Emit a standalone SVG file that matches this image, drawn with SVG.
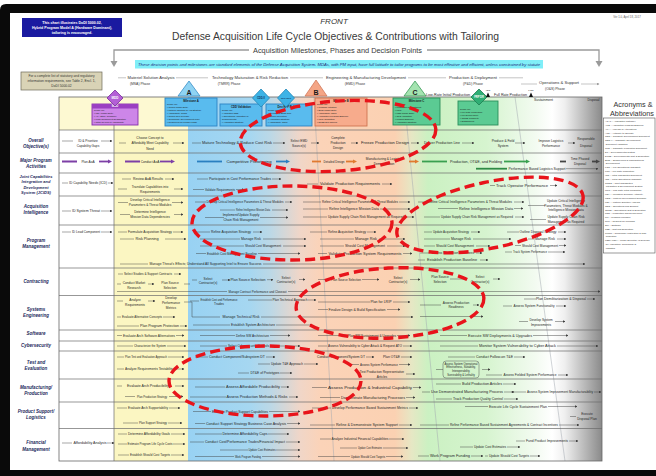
<svg xmlns="http://www.w3.org/2000/svg" width="656" height="476" viewBox="0 0 656 476">
<defs>
<style>
text{font-family:"Liberation Sans",Arial,sans-serif}
.t{font-size:3.2px;fill:#262626;text-anchor:middle}
.rl{font-size:4.5px;font-style:italic;font-weight:bold;fill:#1d2a5c;text-anchor:middle}
.l{stroke:#3c3c3c;stroke-width:0.45;fill:none}
.a{stroke:#3c3c3c;stroke-width:0.45;fill:none;marker-end:url(#ar)}
.sep{stroke:#6a6a6a;stroke-width:0.7;fill:none}
.ph{font-size:3.4px;fill:#333;text-anchor:middle}
.pl{stroke:#8a8a8a;stroke-width:0.5;fill:none}
.bx{font-size:2.3px;fill:#1a1a1a}
.bh{font-size:2.8px;font-weight:bold;fill:#1a1a1a;text-anchor:middle}
.ac{font-size:2.4px;fill:#333}
.red{fill:none;stroke:#e8141b;stroke-width:3.4;stroke-dasharray:10 5}
.vl{stroke:#a3a9b0;stroke-width:0.5;fill:none}
</style>
<linearGradient id="bg" gradientUnits="userSpaceOnUse" x1="188" y1="0" x2="602" y2="0">
<stop offset="0" stop-color="#98d2f3"/>
<stop offset="0.15" stop-color="#a6d7f1"/>
<stop offset="0.2" stop-color="#bcd8e6"/>
<stop offset="0.27" stop-color="#f0d6c8"/>
<stop offset="0.32" stop-color="#fbd3b8"/>
<stop offset="0.5" stop-color="#fbd1b2"/>
<stop offset="0.54" stop-color="#e6e7c4"/>
<stop offset="0.58" stop-color="#cbf1c2"/>
<stop offset="0.72" stop-color="#d6f4cf"/>
<stop offset="0.84" stop-color="#f3fbf1"/>
<stop offset="0.88" stop-color="#ffffff"/>
<stop offset="0.91" stop-color="#efefef"/>
<stop offset="1" stop-color="#8a8a8a"/>
</linearGradient>
<marker id="ar" viewBox="0 0 6 6" refX="5" refY="3" markerWidth="2.4" markerHeight="2.4" markerUnits="userSpaceOnUse" orient="auto"><path d="M0,0L6,3L0,6z" fill="#3c3c3c"/></marker>
<marker id="ap" viewBox="0 0 6 6" refX="2" refY="3" markerWidth="4.5" markerHeight="4.5" markerUnits="userSpaceOnUse" orient="auto"><path d="M0,0L6,3L0,6z" fill="#7d3fa6"/></marker>
<marker id="ab" viewBox="0 0 6 6" refX="2" refY="3" markerWidth="4.5" markerHeight="4.5" markerUnits="userSpaceOnUse" orient="auto"><path d="M0,0L6,3L0,6z" fill="#2a7fc0"/></marker>
<marker id="ao" viewBox="0 0 6 6" refX="2" refY="3" markerWidth="4.5" markerHeight="4.5" markerUnits="userSpaceOnUse" orient="auto"><path d="M0,0L6,3L0,6z" fill="#e07a30"/></marker>
<marker id="ag" viewBox="0 0 6 6" refX="2" refY="3" markerWidth="4.5" markerHeight="4.5" markerUnits="userSpaceOnUse" orient="auto"><path d="M0,0L6,3L0,6z" fill="#3aa050"/></marker>
<marker id="ad" viewBox="0 0 6 6" refX="2" refY="3" markerWidth="4.5" markerHeight="4.5" markerUnits="userSpaceOnUse" orient="auto"><path d="M0,0L6,3L0,6z" fill="#444"/></marker>
<marker id="ag2" viewBox="0 0 6 6" refX="5" refY="3" markerWidth="3" markerHeight="3" markerUnits="userSpaceOnUse" orient="auto"><path d="M0,0L6,3L0,6z" fill="#999"/></marker>
</defs>

<!-- frame -->
<rect x="0" y="0" width="656" height="476" fill="#ffffff"/>
<path d="M0 10Q0 4 6 4H656V476H0Z" fill="#0a0a0a"/>
<rect x="10" y="13" width="646" height="457" fill="#ffffff"/>

<!-- header -->
<g id="note-blue">
<rect x="22" y="18" width="100" height="19" fill="#1a1aa0"/>
<text x="72" y="24" style="font-size:3.6px;font-weight:bold;fill:#fff;text-anchor:middle">This chart illustrates DoDI 5000.02,</text>
<text x="72" y="29" style="font-size:3.6px;font-weight:bold;fill:#fff;text-anchor:middle">Hybrid Program Model A (Hardware Dominant),</text>
<text x="72" y="34" style="font-size:3.6px;font-weight:bold;fill:#fff;text-anchor:middle">tailoring is encouraged.</text>
</g>
<text x="334" y="24" style="font-size:8px;font-style:italic;fill:#333;text-anchor:middle">FRONT</text>
<text x="335.5" y="40" textLength="327" lengthAdjust="spacingAndGlyphs" style="font-size:11.5px;fill:#3a3a3a;text-anchor:middle">Defense Acquisition Life Cycle Objectives &amp; Contributions with Tailoring</text>
<text x="337.5" y="53" textLength="169" lengthAdjust="spacingAndGlyphs" style="font-size:7.3px;fill:#3a3a3a;text-anchor:middle">Acquisition Milestones, Phases and Decision Points</text>
<text x="627" y="18" style="font-size:2.8px;fill:#666;text-anchor:middle">Ver 1.0, April 18, 2017</text>
<g id="bracket" fill="#9a9a9a">
<path d="M249 50H114V62M427 50H599V62" stroke="#9a9a9a" stroke-width="1.3" fill="none"/>
<polygon points="110.5,61 117.5,61 114,67"/>
<polygon points="595.5,61 602.5,61 599,67"/>
</g>
<g id="banner">
<rect x="135" y="60" width="408" height="8.5" fill="#80eef8"/>
<text x="339" y="65.8" textLength="402" lengthAdjust="spacingAndGlyphs" style="font-size:3.8px;font-style:italic;fill:#1e2a7a;text-anchor:middle">These decision points and milestones are standard elements of the Defense Acquisition System.   MDAs, with PM input, have full latitude to tailor programs to be most effective and efficient, unless constrained by statute</text>
</g>
<g id="note-tan">
<rect x="21" y="72" width="81" height="18" fill="#d9d3b6" stroke="#6d6a5a" stroke-width="0.7"/>
<text x="61.5" y="77" style="font-size:3.3px;fill:#333;text-anchor:middle">For a complete list of statutory and regulatory</text>
<text x="61.5" y="81.8" style="font-size:3.3px;fill:#333;text-anchor:middle">information requirements, see Table 2, Encl. 1,</text>
<text x="61.5" y="86.6" style="font-size:3.3px;fill:#333;text-anchor:middle">DoDI 5000.02</text>
</g>

<!-- phase labels -->
<g id="phases">
<path class="pl" d="M118 77.8H126M499 77.8H523M521 84H537"/>
<path class="pl" d="M176 77.8H208M290 77.8H323M408 77.8H446M581 84H599" marker-end="url(#ag2)"/>
<text class="ph" x="151" y="79" textLength="47" lengthAdjust="spacingAndGlyphs">Materiel Solution Analysis</text>
<text class="ph" x="140" y="85.2">(MSA) Phase</text>
<text class="ph" x="250" y="79" textLength="76" lengthAdjust="spacingAndGlyphs">Technology Maturation &amp; Risk Reduction</text>
<text class="ph" x="229" y="85.2">(TMRR) Phase</text>
<text class="ph" x="366" y="79" textLength="80" lengthAdjust="spacingAndGlyphs">Engineering &amp; Manufacturing Development</text>
<text class="ph" x="355" y="85.2">(EMD) Phase</text>
<text class="ph" x="473" y="79" textLength="48" lengthAdjust="spacingAndGlyphs">Production &amp; Deployment</text>
<text class="ph" x="473" y="85.2">(P&amp;D) Phase</text>
<text class="ph" x="559" y="83.6" textLength="40" lengthAdjust="spacingAndGlyphs">Operations &amp; Support</text>
<text class="ph" x="555" y="89.6">(O&amp;S) Phase</text>
</g>

<!-- chart backgrounds -->
<rect x="59" y="97" width="129" height="33" fill="#fdf9d2"/>
<rect x="114" y="130" width="74" height="331" fill="#fbf6c2"/>
<rect x="188" y="97" width="414" height="364" fill="url(#bg)"/>
<path class="vl" d="M314 97L334 461M404 97L440 461M515 97L565 461"/>
<path class="sep" d="M114 97V461"/>
<path class="sep" d="M59 130H602M59 153H602M59 173H602M59 196H602M59 225H602M59 268H602M59 295.5H602M59 330H602M59 341H602M59 351H602M59 379H602M59 402H602M59 428.5H602"/>
<rect x="59" y="97" width="543" height="364" fill="none" stroke="#666" stroke-width="0.8"/>

<!-- milestone header nodes -->
<g id="mdd">
<rect x="92" y="104" width="46" height="21" fill="#cd86e8" stroke="#862fae" stroke-width="0.9"/>
<rect x="92" y="104" width="46" height="4.5" fill="#9b3fc2"/>
<text class="bh" x="115" y="107.4" style="fill:#fff">MDD</text>
<text class="bx" x="94" y="111.3">Ready for:</text>
<text class="bx" x="94" y="114.3">• MSA Phase Entry</text>
<text class="bx" x="94" y="117.3">• AoA Study Guidance</text>
<text class="bx" x="94" y="120.3">• Lead Component Designation</text>
<text class="bx" x="94" y="123.3">• Initial Review of Affordability</text>
<polygon points="115,90 123,98 115,106 107,98" fill="#b35fd6" stroke="#7a2d9c" stroke-width="0.8"/>
<text x="115" y="99.1" style="font-size:3px;font-weight:bold;fill:#fff;text-anchor:middle">MDD</text>
</g>
<g id="ms-a">
<rect x="165" y="98" width="52" height="28" fill="#59bbee" stroke="#2b84c4" stroke-width="0.9"/>
<text class="bh" x="191" y="101.6">Milestone A</text>
<text class="bx" x="167" y="105">Ready for:</text>
<text class="bx" x="167" y="108">• TMRR Phase Entry</text>
<text class="bx" x="167" y="111">• Materiel Solution &amp; Acq Strategy</text>
<text class="bx" x="167" y="114">• Affordability Goals</text>
<text class="bx" x="167" y="117">• TMRR RFP Release</text>
<text class="bx" x="167" y="120">• Technology Development Plan</text>
<text class="bx" x="167" y="123">• Resources for TMRR Phase</text>
<polygon points="189,81 200,96 178,96" fill="#8fd3f3" stroke="#3a8fc8" stroke-width="0.8"/>
<text x="189" y="94.5" style="font-size:7px;font-weight:bold;fill:#1a1a1a;text-anchor:middle">A</text>
</g>
<g id="cdd-v">
<rect x="220" y="104" width="42" height="22" fill="#59bbee" stroke="#2b84c4" stroke-width="0.9"/>
<text class="bh" x="241" y="107.6">CDD Validation</text>
<text class="bx" x="222" y="111">Ready for:</text>
<text class="bx" x="222" y="114">• Validated CDD</text>
<text class="bx" x="222" y="117">• Operational Validation of</text>
<text class="bx" x="222" y="120">  Requirements</text>
<text class="bx" x="222" y="123">• Acquisition Strategy</text>
<polygon points="261,89 269.5,98 261,107 252.5,98" fill="#3db3e6" stroke="#2488b8" stroke-width="0.8"/>
<text x="261" y="99" style="font-size:2.6px;font-weight:bold;fill:#10305a;text-anchor:middle">CDD-V</text>
</g>
<g id="rfp">
<rect x="266" y="104" width="46" height="22" fill="#59bbee" stroke="#2b84c4" stroke-width="0.9"/>
<text class="bh" x="289" y="107.6">Dev RFP Release</text>
<text class="bx" x="268" y="111">Ready for:</text>
<text class="bx" x="268" y="114">• Release of EMD RFP</text>
<text class="bx" x="268" y="117">• Source Selection</text>
<text class="bx" x="268" y="120">• Acquisition Strategy</text>
<text class="bx" x="268" y="123">• Affordability Caps</text>
<polygon points="286,89 294.5,98 286,107 277.5,98" fill="#3db3e6" stroke="#2488b8" stroke-width="0.8"/>
<text x="286" y="99" style="font-size:2.5px;font-weight:bold;fill:#10305a;text-anchor:middle">RFP Dev</text>
</g>
<g id="ms-b">
<rect x="315" y="98" width="52" height="28" fill="#f7ab8c" stroke="#cf7350" stroke-width="0.9"/>
<text class="bh" x="341" y="101.6">Milestone B</text>
<text class="bx" x="317" y="105">Ready for:</text>
<text class="bx" x="317" y="108">• Program Initiation</text>
<text class="bx" x="317" y="111">• EMD Phase Entry</text>
<text class="bx" x="317" y="114">• Affordability Caps</text>
<text class="bx" x="317" y="117">• Acquisition Program Baseline</text>
<text class="bx" x="317" y="120">• LRIP Quantities</text>
<text class="bx" x="317" y="123">• DT&amp;E Exit Criteria</text>
<polygon points="316,80 327,96 305,96" fill="#f4a585" stroke="#d2785a" stroke-width="0.8"/>
<text x="316" y="94.5" style="font-size:7px;font-weight:bold;fill:#1a1a1a;text-anchor:middle">B</text>
</g>
<g id="ms-c">
<rect x="393" y="98" width="47" height="27" fill="#5bcb93" stroke="#2a8f5c" stroke-width="0.9"/>
<text class="bh" x="416.5" y="101.6">Milestone C</text>
<text class="bx" x="395" y="105">Ready for:</text>
<text class="bx" x="395" y="108">• Production Commitment</text>
<text class="bx" x="395" y="111">• LRIP</text>
<text class="bx" x="395" y="114">• P&amp;D Phase Entry</text>
<text class="bx" x="395" y="117">• CPD Validation</text>
<text class="bx" x="395" y="120">• Product Baseline</text>
<text class="bx" x="395" y="123">• Acquisition Strategy</text>
<polygon points="415,81 426,96 404,96" fill="#a4e3b0" stroke="#3e9c5c" stroke-width="0.8"/>
<text x="415" y="94.5" style="font-size:7px;font-weight:bold;fill:#1a1a1a;text-anchor:middle">C</text>
</g>
<g id="frp-dr">
<rect x="458" y="101" width="40" height="24" fill="#5bcb93" stroke="#2a8f5c" stroke-width="0.9"/>
<text class="bx" x="460" y="110">Ready for:</text>
<text class="bx" x="460" y="113">• Full Rate Production</text>
<text class="bx" x="460" y="116">• Full Deployment</text>
<text class="bx" x="460" y="119">• IOT&amp;E Complete</text>
<text class="bx" x="460" y="122">• Sustainment</text>
<polygon points="479,89 487,97 479,105 471,97" fill="#2fae74" stroke="#1d7d50" stroke-width="0.8"/>
<text x="479" y="98" style="font-size:2.6px;font-weight:bold;fill:#fff;text-anchor:middle">FRP DR</text>
</g>
<g id="production-marks">
<text class="t" x="448" y="95.8" textLength="44" lengthAdjust="spacingAndGlyphs" style="font-size:2.8px">Low-Rate Initial Production</text>
<text class="t" x="510.5" y="95.8" textLength="33" lengthAdjust="spacingAndGlyphs" style="font-size:2.8px">Full Rate Production</text>
<text class="t" x="488" y="90.5" style="font-size:2.5px">IOC</text>
<polygon points="486,97 490,97 488,92.5" fill="#111"/>
<text class="t" x="531" y="90.5" style="font-size:2.5px">FOC</text>
<polygon points="529,97 533,97 531,92.5" fill="#111"/>
<text class="t" x="543.5" y="101" textLength="19" lengthAdjust="spacingAndGlyphs" style="font-size:2.8px">Sustainment</text>
<text class="t" x="593.5" y="101" textLength="12" lengthAdjust="spacingAndGlyphs" style="font-size:2.8px">Disposal</text>
</g>

<!-- row labels -->
<g id="row-labels">
<text class="rl" x="36" y="142">Overall<tspan x="36" dy="5.8">Objective(s)</tspan></text>
<text class="rl" x="36" y="162">Major Program<tspan x="36" dy="5.8">Activities</tspan></text>
<text class="rl" x="36" y="178" style="font-size:4px">Joint Capabilities<tspan x="36" dy="5.3">Integration and</tspan><tspan x="36" dy="5.3">Development</tspan><tspan x="36" dy="5.3">System (JCIDS)</tspan></text>
<text class="rl" x="36" y="208">Acquisition<tspan x="36" dy="6">Intelligence</tspan></text>
<text class="rl" x="36" y="242">Program<tspan x="36" dy="6.3">Management</tspan></text>
<text class="rl" x="36" y="283">Contracting</text>
<text class="rl" x="36" y="310.5">Systems<tspan x="36" dy="6.3">Engineering</tspan></text>
<text class="rl" x="36" y="334.5">Software</text>
<text class="rl" x="36" y="346.7">Cybersecurity</text>
<text class="rl" x="36" y="363.5">Test and<tspan x="36" dy="6.5">Evaluation</tspan></text>
<text class="rl" x="36" y="389">Manufacturing/<tspan x="36" dy="6.3">Production</tspan></text>
<text class="rl" x="36" y="412.5">Product Support/<tspan x="36" dy="6.2">Logistics</tspan></text>
<text class="rl" x="36" y="444">Financial<tspan x="36" dy="6.5">Management</tspan></text>
</g>

<!-- connectors -->
<g id="connectors">
<g id="activity-arrows" stroke-width="1.8" fill="none">
<path d="M62 161.5H77M125 161.5H140" stroke="#7d3fa6"/>
<path d="M99 161.5H109" stroke="#7d3fa6" marker-end="url(#ap)"/>
<path d="M160 161.5H172" stroke="#7d3fa6" marker-end="url(#ap)"/>
<path d="M197 161.5H222" stroke="#2a7fc0"/>
<path d="M276 161.5H287" stroke="#2a7fc0" marker-end="url(#ab)"/>
<path d="M312 161.5H321" stroke="#e07a30"/>
<path d="M346 161.5H354" stroke="#e07a30" marker-end="url(#ao)"/>
<path d="M409 161.5H416" stroke="#e07a30" marker-end="url(#ao)"/>
<path d="M422 161.5H447" stroke="#3aa050"/>
<path d="M504 161.5H527" stroke="#3aa050" marker-end="url(#ag)"/>
<path d="M560 161.5H566" stroke="#444"/>
<path d="M592 161.5H597" stroke="#444" marker-end="url(#ad)"/>
<path d="M476 168.7H507" stroke="#2f8a45"/>
</g>
<path class="l" d="M62 141H73M119 143H126M192 143H201"/>
<path class="a" d="M101 141H112"/><path class="a" d="M173 143H184"/><path class="a" d="M273 143H285"/><path class="a" d="M311 143H319"/><path class="a" d="M351 143H358"/><path class="a" d="M411 143H419"/><path class="a" d="M462 143H474"/><path class="a" d="M515 143H525"/><path class="a" d="M568 143H575"/>
<path class="a" d="M566 168.7H598"/>
<path class="l" d="M62 183H68M122 179H131M118 189H127M197 179H208M193 189.5H204M307 184H318M490 185.5H495"/>
<path class="a" d="M108 183H113"/><path class="a" d="M165 179H174"/><path class="a" d="M174 189H183"/><path class="a" d="M272 179H281"/><path class="a" d="M236 189.5H244"/><path class="a" d="M382 184H392"/><path class="a" d="M550 185.5H557"/>
<path class="l" d="M62 211H71M118 202.5H128M120 214.5H130M195 202H206M220 210H235M205 217.5H224M303 202H321M303 209H328M303 217H327M418 202H427M438 208.5H458M424 217H440M528 205.5H545M530 219.5H546"/>
<path class="a" d="M101 211H112"/><path class="a" d="M172 202.5H183"/><path class="a" d="M174 214.5H183"/><path class="a" d="M285 202H292"/><path class="a" d="M272 210H288"/><path class="a" d="M260 217.5H288"/><path class="a" d="M399 202H410"/><path class="a" d="M380 209H410"/><path class="a" d="M406 217H414"/><path class="a" d="M514 202H524"/><path class="a" d="M514 208.5H523"/><path class="a" d="M515 217H524"/>
<path class="l" d="M62 232H71M118 232H127M120 239H134M120 264H148M195 232H210M200 239H240M200 246H244M196 253.5H206M310 232H327M320 239H354M320 246H344M318 253.5H327M424 232H432M424 239H450M424 246H435M420 253H430M418 260H425M507 232H519M528 239H534M515 245.5H521M505 252H512"/>
<path class="a" d="M101 232H112"/><path class="a" d="M173 232H183"/><path class="a" d="M165 239H186"/><path class="a" d="M263 264H585"/><path class="a" d="M253 232H262"/><path class="a" d="M263 239H306"/><path class="a" d="M283 246H306"/><path class="a" d="M258 253.5H300"/><path class="a" d="M367 232H376"/><path class="a" d="M379 239H405"/><path class="a" d="M387 246H405"/><path class="a" d="M403 253.5H412"/><path class="a" d="M471 232H480"/><path class="a" d="M473 239H511"/><path class="a" d="M476 246H490"/><path class="a" d="M476 253H482"/><path class="a" d="M480 260H488"/><path class="a" d="M558 232H566"/><path class="a" d="M557 239H566"/><path class="a" d="M559 245.5H566"/><path class="a" d="M548 252H565"/>
<path class="l" d="M118 274H123M117 284H121M184 284H190M192 280H197M117 291.5H227M318 279.5H330"/>
<path class="a" d="M174 274H181"/><path class="a" d="M148 284H154"/><path class="a" d="M222 280H230"/><path class="a" d="M267 279.7H273"/><path class="a" d="M299 279.5H305"/><path class="a" d="M288 291.5H600"/><path class="a" d="M362 279.5H379"/><path class="a" d="M410 279.5H420"/><path class="a" d="M450 279H467"/><path class="a" d="M493 279H500"/>
<path class="l" d="M117 301H123M184 302H192V317H220M117 317H121M117 326H139M190 301H199M248 300H272M193 325H230M318 302H370M318 309.5H328M420 305H441M524 299H536M503 306H512M519 321.5H528"/>
<path class="a" d="M148 301H155"/><path class="a" d="M163 317H175"/><path class="a" d="M180 326H187"/><path class="a" d="M308 300H316"/><path class="a" d="M261 317H413"/><path class="a" d="M420 316.5H483"/><path class="a" d="M276 325H312"/><path class="a" d="M393 302H410"/><path class="a" d="M387 309.5H400"/><path class="a" d="M473 305H479"/><path class="a" d="M587 299H595"/><path class="a" d="M556 306H566"/><path class="a" d="M555 321.5H565"/>
<path class="l" d="M117 335.5H122M200 335.5H235M318 335.5H347M440 335.5H467M117 346H133M200 346H227M318 346H327M440 346H478"/>
<path class="a" d="M176 335.5H184"/><path class="a" d="M270 335.5H290"/><path class="a" d="M397 335.5H410"/><path class="a" d="M533 335.5H568"/><path class="a" d="M167 346H186"/><path class="a" d="M270 346H300"/><path class="a" d="M403 346H412"/><path class="a" d="M557 346H598"/>
<path class="l" d="M117 357H124M117 369H124M195 357H208M258 364H270M238 373H249M350 364.5H359M448 357H475M436 369.5H443M486 375H502"/>
<path class="a" d="M168 357H184"/><path class="a" d="M174 369H184"/><path class="a" d="M266 357H275"/><path class="a" d="M304 364H318"/><path class="a" d="M280 373H292"/><path class="a" d="M366 357H374"/><path class="a" d="M401 357H412"/><path class="a" d="M399 364.5H410"/><path class="a" d="M406 374H415"/><path class="a" d="M514 357H525"/><path class="a" d="M482 369.5H490"/><path class="a" d="M558 375H568"/>
<path class="l" d="M117 386H122M125 396.5H135M195 387H225M190 397H226M312 387.5H327M320 397.5H340M436 384H461M422 392H430M436 399H452M511 392H526"/>
<path class="a" d="M175 386H184"/><path class="a" d="M169 396.5H183"/><path class="a" d="M281 387H289"/><path class="a" d="M289 397H298"/><path class="a" d="M413 387.5H421"/><path class="a" d="M406 397.5H415"/><path class="a" d="M503 384H516"/><path class="a" d="M504 392H514"/><path class="a" d="M504 399H518"/><path class="a" d="M594 392H601"/>
<path class="l" d="M117 408H127M123 423H138M193 411.5H211M195 423.5H205M312 408H331M310 425H335M465 406.5H488M570 416.5H576M420 425H449"/>
<path class="a" d="M169 408H180"/><path class="a" d="M168 423H182"/><path class="a" d="M269 411.5H300"/><path class="a" d="M287 423.5H300"/><path class="a" d="M409 408H418"/><path class="a" d="M399 425H412"/><path class="a" d="M548 406.5H577"/><path class="a" d="M559 425H579"/>
<path class="l" d="M62 443H72M118 434H127M118 444H127M118 455H129M195 434H222M190 442H204M220 450H248M195 456.5H234M320 439H331M340 448H357M318 456.5H350M418 456H429M485 456H488M460 447H473M516 441H525"/>
<path class="a" d="M107 443H114"/><path class="a" d="M171 434H185"/><path class="a" d="M173 444H185"/><path class="a" d="M171 455H184"/><path class="a" d="M268 434H289"/><path class="a" d="M286 442H300"/><path class="a" d="M276 450H300"/><path class="a" d="M262 456.5H300"/><path class="a" d="M389 439H404"/><path class="a" d="M383 448H408"/><path class="a" d="M386 456.5H403"/><path class="a" d="M471 456H483"/><path class="a" d="M530 456H540"/><path class="a" d="M507 447H520"/><path class="a" d="M569 441H578"/>
</g>

<!-- row items -->
<g id="row-objectives">
<text class="t" x="88" y="142.1">ID &amp; Prioritize<tspan x="88" dy="5.2">Capability Gaps</tspan></text>
<text class="t" x="150" y="139">Choose Concept to<tspan x="150" dy="5.4">Affordably Meet Capability</tspan><tspan x="150" dy="5.4">Need</tspan></text>
<text class="t" x="237" y="144.1" textLength="70" lengthAdjust="spacingAndGlyphs">Mature Technology &amp; Reduce Cost Risk</text>
<text class="t" x="299" y="141.5">Select EMD<tspan x="299" dy="5">Source(s)</tspan></text>
<text class="t" x="338" y="138.8">Complete<tspan x="338" dy="5.2">Production</tspan><tspan x="338" dy="5.2">Design</tspan></text>
<text class="t" x="385" y="144.1" textLength="48" lengthAdjust="spacingAndGlyphs">Freeze Production Design</text>
<text class="t" x="442" y="144.1" textLength="36" lengthAdjust="spacingAndGlyphs">Deliver Production Line</text>
<text class="t" x="503" y="141.5">Produce &amp; Field<tspan x="503" dy="5">System</tspan></text>
<text class="t" x="551" y="141.5">Improve Logistics<tspan x="551" dy="5">Performance</tspan></text>
<text class="t" x="586" y="140">Responsible<tspan x="586" dy="7">Disposal</tspan></text>
</g>
<g id="row-activities">
<text class="t" x="88" y="162.6">Plan AoA</text>
<text class="t" x="150" y="162.6">Conduct AoA</text>
<text class="t" x="249" y="162.6" textLength="45" lengthAdjust="spacingAndGlyphs">Competitive Prototyping</text>
<text class="t" x="334" y="162.6" textLength="21" lengthAdjust="spacingAndGlyphs">Detailed Design</text>
<text class="t" x="384" y="160">Manufacturing &amp; Logistics<tspan x="384" dy="5.2">Demonstration</tspan></text>
<text class="t" x="476" y="162.6" textLength="52" lengthAdjust="spacingAndGlyphs">Production, OT&amp;E, and Fielding</text>
<text class="t" x="580" y="160.3">Time Phased<tspan x="580" dy="5">Disposal</tspan></text>
<text class="t" x="537" y="169.8" textLength="57" lengthAdjust="spacingAndGlyphs">Performance Based Logistics Support</text>
</g>
<g id="row-jcids">
<text class="t" x="88" y="184.1" textLength="38" lengthAdjust="spacingAndGlyphs">ID Capability Needs (ICD)</text>
<text class="t" x="148" y="180.1" textLength="30" lengthAdjust="spacingAndGlyphs">Review AoA Results</text>
<text class="t" x="150" y="188.2">Translate Capabilities into<tspan x="150" dy="4.8">Requirements</tspan></text>
<text class="t" x="240" y="180.1" textLength="62" lengthAdjust="spacingAndGlyphs">Participate in Cost Performance Trades</text>
<text class="t" x="220" y="190.6" textLength="30" lengthAdjust="spacingAndGlyphs">Validate Requirements</text>
<text class="t" x="350" y="185.1" textLength="60" lengthAdjust="spacingAndGlyphs">Validate Production Requirements</text>
<text class="t" x="522" y="186.6" textLength="52" lengthAdjust="spacingAndGlyphs">Track Operator Performance</text>
</g>
<g id="row-intel">
<text class="t" x="86" y="212.1" textLength="28" lengthAdjust="spacingAndGlyphs">ID System Threat</text>
<text class="t" x="150" y="201.2">Develop Critical Intelligence<tspan x="150" dy="4.6">Parameters &amp; Threat Modules</tspan></text>
<text class="t" x="150" y="213.3">Determine Intelligence<tspan x="150" dy="4.8">Mission Data Dependencies</tspan></text>
<text class="t" x="245" y="203.1" textLength="77" lengthAdjust="spacingAndGlyphs">Develop Critical Intelligence Parameters &amp; Threat Modules</text>
<text class="t" x="253" y="211.1" textLength="34" lengthAdjust="spacingAndGlyphs">Refine Intelligence Mission Data</text>
<text class="t" x="241" y="216.4">Implement/Update Supply<tspan x="241" dy="4.4">Chain Risk Management</tspan></text>
<text class="t" x="360" y="203.1" textLength="76" lengthAdjust="spacingAndGlyphs">Refine Critical Intelligence Parameters &amp; Threat Modules</text>
<text class="t" x="354" y="210.1" textLength="50" lengthAdjust="spacingAndGlyphs">Refine Intelligence Mission Data</text>
<text class="t" x="366" y="218.1" textLength="76" lengthAdjust="spacingAndGlyphs">Update Supply Chain Risk Management as Required</text>
<text class="t" x="470" y="203.1" textLength="84" lengthAdjust="spacingAndGlyphs">Refine Critical Intelligence Parameters &amp; Threat Modules</text>
<text class="t" x="486" y="209.6" textLength="54" lengthAdjust="spacingAndGlyphs">Refine Intelligence Mission Data</text>
<text class="t" x="477" y="218.1" textLength="72" lengthAdjust="spacingAndGlyphs">Update Supply Chain Risk Management as Required</text>
<text class="t" x="566" y="202.3">Update Critical Intelligence<tspan x="566" dy="4.5">Parameters, Threat Modules &amp;</tspan><tspan x="566" dy="4.5">Intelligence Mission Data</tspan></text>
<text class="t" x="566" y="218.4">Update Supply Chain Risk<tspan x="566" dy="4.5">Management as Required</tspan></text>
</g>
<g id="row-pm">
<text class="t" x="86" y="233.1" textLength="28" lengthAdjust="spacingAndGlyphs">ID Lead Component</text>
<text class="t" x="150" y="233.1" textLength="44" lengthAdjust="spacingAndGlyphs">Formulate Acquisition Strategy</text>
<text class="t" x="147" y="240.1" textLength="23" lengthAdjust="spacingAndGlyphs">Risk Planning</text>
<text class="t" x="205.5" y="265.1" textLength="112" lengthAdjust="spacingAndGlyphs">Manage Threat's Effects; Understand All Supporting Intel to Ensure Success</text>
<text class="t" x="231" y="233.1" textLength="40" lengthAdjust="spacingAndGlyphs">Refine Acquisition Strategy</text>
<text class="t" x="251" y="240.1" textLength="20" lengthAdjust="spacingAndGlyphs">Manage Risk</text>
<text class="t" x="263" y="247.1" textLength="36" lengthAdjust="spacingAndGlyphs">Should Cost Management</text>
<text class="t" x="232" y="254.6" textLength="50" lengthAdjust="spacingAndGlyphs">Establish Cost Management Baseline</text>
<text class="t" x="347" y="233.1" textLength="38" lengthAdjust="spacingAndGlyphs">Refine Acquisition Strategy</text>
<text class="t" x="366" y="240.1" textLength="22" lengthAdjust="spacingAndGlyphs">Manage Risk</text>
<text class="t" x="365" y="247.1" textLength="40" lengthAdjust="spacingAndGlyphs">Should Cost Management</text>
<text class="t" x="365" y="254.6" textLength="73" lengthAdjust="spacingAndGlyphs">Validate Production System Requirements</text>
<text class="t" x="451" y="233.1" textLength="36" lengthAdjust="spacingAndGlyphs">Update Acquisition Strategy</text>
<text class="t" x="461" y="240.1" textLength="20" lengthAdjust="spacingAndGlyphs">Manage Risk</text>
<text class="t" x="455" y="247.1" textLength="38" lengthAdjust="spacingAndGlyphs">Should Cost Management</text>
<text class="t" x="453" y="254.1" textLength="42" lengthAdjust="spacingAndGlyphs">Assess Production Readiness</text>
<text class="t" x="452" y="261.1" textLength="50" lengthAdjust="spacingAndGlyphs">Establish Production Baseline</text>
<text class="t" x="538" y="233.1" textLength="37" lengthAdjust="spacingAndGlyphs">Outline Disposal Strategy</text>
<text class="t" x="545" y="240.1" textLength="20" lengthAdjust="spacingAndGlyphs">Manage Risk</text>
<text class="t" x="540" y="246.6" textLength="36" lengthAdjust="spacingAndGlyphs">Should Cost Management</text>
<text class="t" x="530" y="253.1" textLength="34" lengthAdjust="spacingAndGlyphs">Track System Performance</text>
</g>
<g id="row-contracting">
<text class="t" x="148" y="275.1" textLength="48" lengthAdjust="spacingAndGlyphs">Select Studies &amp; Support Contracts</text>
<text class="t" x="134" y="284.3">Conduct Market<tspan x="134" dy="4.6">Research</tspan></text>
<text class="t" x="170" y="284.3">Plan Source<tspan x="170" dy="4.6">Selection</tspan></text>
<text class="t" x="208" y="279.5">Select<tspan x="208" dy="4.6">Contractor(s)</tspan></text>
<text class="t" x="248" y="280.8" textLength="35" lengthAdjust="spacingAndGlyphs">Plan Source Selection</text>
<text class="t" x="286" y="278.8">Select<tspan x="286" dy="4.6">Contractor(s)</tspan></text>
<text class="t" x="257.5" y="292.6" textLength="58" lengthAdjust="spacingAndGlyphs">Manage Contract Performance and Closeout</text>
<text class="t" x="346" y="280.6" textLength="30" lengthAdjust="spacingAndGlyphs">Plan Source Selection</text>
<text class="t" x="398" y="278.8">Select<tspan x="398" dy="4.6">Contractor(s)</tspan></text>
<text class="t" x="440" y="278.2">Plan Source<tspan x="440" dy="4.6">Selection</tspan></text>
<text class="t" x="480" y="278.1">Select<tspan x="480" dy="4.6">Contractor(s)</tspan></text>
</g>
<g id="row-se">
<text class="t" x="135" y="300.6">Analyze<tspan x="135" dy="5">Requirements</tspan></text>
<text class="t" x="171" y="299.2">Develop<tspan x="171" dy="4.8">Performance</tspan><tspan x="171" dy="4.8">Metrics</tspan></text>
<text class="t" x="142" y="318.1" textLength="40" lengthAdjust="spacingAndGlyphs">Evaluate Alternative Concepts</text>
<text class="t" x="159.5" y="327.1" textLength="39" lengthAdjust="spacingAndGlyphs">Plan Program Protection</text>
<text class="t" x="219" y="300.5" textLength="37" lengthAdjust="spacingAndGlyphs">Establish Cost and Performance</text>
<text class="t" x="219" y="305.3">Trades</text>
<text class="t" x="290" y="301.1" textLength="35" lengthAdjust="spacingAndGlyphs">Plan Technical Approach</text>
<text class="t" x="241" y="318.1" textLength="37" lengthAdjust="spacingAndGlyphs">Manage Technical Risk</text>
<text class="t" x="253" y="326.1" textLength="44" lengthAdjust="spacingAndGlyphs">Establish System Architecture</text>
<text class="t" x="381" y="303.1" textLength="21" lengthAdjust="spacingAndGlyphs">Plan for LRIP</text>
<text class="t" x="357" y="310.6" textLength="57" lengthAdjust="spacingAndGlyphs">Finalize Design &amp; Build Specification</text>
<text class="t" x="456" y="303.6">Assess Production<tspan x="456" dy="4.8">Readiness</tspan></text>
<text class="t" x="561" y="300.1" textLength="50" lengthAdjust="spacingAndGlyphs">Plan Demilitarization &amp; Disposal</text>
<text class="t" x="534" y="307.1" textLength="41" lengthAdjust="spacingAndGlyphs">Assess System Functionality</text>
<text class="t" x="541" y="320.8">Develop System<tspan x="541" dy="4.8">Improvements</tspan></text>
</g>
<g id="row-software">
<text class="t" x="149" y="336.6" textLength="52" lengthAdjust="spacingAndGlyphs">Evaluate Arch Software Alternatives</text>
<text class="t" x="252.5" y="336.6" textLength="33" lengthAdjust="spacingAndGlyphs">Define SW Architecture</text>
<text class="t" x="372" y="336.6" textLength="48" lengthAdjust="spacingAndGlyphs">Plan SW Sustainment &amp; Upgrades</text>
<text class="t" x="500" y="336.6" textLength="64" lengthAdjust="spacingAndGlyphs">Execute SW Deployments &amp; Upgrades</text>
</g>
<g id="row-cyber">
<text class="t" x="150" y="347.1" textLength="32" lengthAdjust="spacingAndGlyphs">Characterize the System</text>
<text class="t" x="248.5" y="347.1" textLength="41" lengthAdjust="spacingAndGlyphs">Select Cybersecurity Controls</text>
<text class="t" x="365" y="347.1" textLength="74" lengthAdjust="spacingAndGlyphs">Assess Vulnerability to Cyber Attack &amp; Request ATO</text>
<text class="t" x="517.5" y="347.1" textLength="77" lengthAdjust="spacingAndGlyphs">Monitor System Vulnerability to Cyber Attack</text>
</g>
<g id="row-te">
<text class="t" x="146" y="358.1" textLength="42" lengthAdjust="spacingAndGlyphs">Plan Test and Evaluation Approach</text>
<text class="t" x="149" y="370.1" textLength="48" lengthAdjust="spacingAndGlyphs">Analyze Requirements Testability</text>
<text class="t" x="237" y="358.1" textLength="56" lengthAdjust="spacingAndGlyphs">Conduct Component/Subsystem DT</text>
<text class="t" x="287" y="365.1" textLength="32" lengthAdjust="spacingAndGlyphs">Update T&amp;E Approach</text>
<text class="t" x="265" y="374.1" textLength="29" lengthAdjust="spacingAndGlyphs">DT&amp;E of Prototypes</text>
<text class="t" x="341" y="358.1" textLength="48" lengthAdjust="spacingAndGlyphs">Conduct Component/System DT</text>
<text class="t" x="391.5" y="358.1" textLength="17" lengthAdjust="spacingAndGlyphs">Plan OT&amp;E</text>
<text class="t" x="379" y="365.6" textLength="38" lengthAdjust="spacingAndGlyphs">Assess System Performance</text>
<text class="t" x="382" y="373">Test Production Representative<tspan x="382" dy="4.8">Articles</tspan></text>
<text class="t" x="494.5" y="358.1" textLength="37" lengthAdjust="spacingAndGlyphs">Conduct Follow-on T&amp;E</text>
<rect x="443" y="361" width="36" height="17" rx="3" fill="none" stroke="#555" stroke-width="0.5"/>
<text class="t" x="461" y="364.6" style="font-size:2.7px">Assess System Operational<tspan x="461" dy="3.8">Effectiveness, Suitability,</tspan><tspan x="461" dy="3.8">Interoperability,</tspan><tspan x="461" dy="3.8">Survivability &amp; Lethality</tspan></text>
<text class="t" x="530" y="376.1" textLength="53" lengthAdjust="spacingAndGlyphs">Assess Fielded System Performance</text>
</g>
<g id="row-mfg">
<text class="t" x="148" y="387.1" textLength="42" lengthAdjust="spacingAndGlyphs">Evaluate Arch Producibility</text>
<text class="t" x="152" y="397.6" textLength="30" lengthAdjust="spacingAndGlyphs">Plan Production Strategy</text>
<text class="t" x="253" y="388.1" textLength="54" lengthAdjust="spacingAndGlyphs">Assess Affordable Producibility</text>
<text class="t" x="257" y="398.1" textLength="61" lengthAdjust="spacingAndGlyphs">Assess Production Methods &amp; Risks</text>
<text class="t" x="370" y="388.6" textLength="84" lengthAdjust="spacingAndGlyphs">Assess Production &amp; Industrial Capability</text>
<text class="t" x="373" y="398.6" textLength="64" lengthAdjust="spacingAndGlyphs">Demonstrate Manufacturing Processes</text>
<text class="t" x="482" y="385.1" textLength="40" lengthAdjust="spacingAndGlyphs">Build Production Articles</text>
<text class="t" x="467" y="393.1" textLength="72" lengthAdjust="spacingAndGlyphs">Use Demonstrated Manufacturing Process</text>
<text class="t" x="478" y="400.1" textLength="50" lengthAdjust="spacingAndGlyphs">Track Production Quality Control</text>
<text class="t" x="560" y="393.1" textLength="66" lengthAdjust="spacingAndGlyphs">Assess System Improvement Manufacturability</text>
</g>
<g id="row-support">
<text class="t" x="148" y="409.1" textLength="40" lengthAdjust="spacingAndGlyphs">Evaluate Arch Supportability</text>
<text class="t" x="153" y="424.1" textLength="28" lengthAdjust="spacingAndGlyphs">Plan Support Strategy</text>
<text class="t" x="240" y="412.6" textLength="56" lengthAdjust="spacingAndGlyphs">Evaluate Product Support Capabilities</text>
<text class="t" x="246" y="424.6" textLength="80" lengthAdjust="spacingAndGlyphs">Conduct Support Strategy Business Case Analysis</text>
<text class="t" x="370" y="409.1" textLength="76" lengthAdjust="spacingAndGlyphs">Develop Performance Based Sustainment Metrics</text>
<text class="t" x="367" y="426.1" textLength="62" lengthAdjust="spacingAndGlyphs">Refine &amp; Demonstrate System Support</text>
<text class="t" x="518" y="407.6" textLength="58" lengthAdjust="spacingAndGlyphs">Execute Life Cycle Sustainment Plan</text>
<text class="t" x="587" y="415">Execute<tspan x="587" dy="5">Disposal Plan</tspan></text>
<text class="t" x="504" y="426.1" textLength="108" lengthAdjust="spacingAndGlyphs">Refine Performance Based Sustainment Agreements &amp; Contract Incentives</text>
</g>
<g id="row-financial">
<text class="t" x="90" y="444.1" textLength="33" lengthAdjust="spacingAndGlyphs">Affordability Analysis</text>
<text class="t" x="149" y="435.1" textLength="42" lengthAdjust="spacingAndGlyphs">Determine Affordability Goals</text>
<text class="t" x="150" y="445.1" textLength="45" lengthAdjust="spacingAndGlyphs">Estimate Program Life Cycle Costs</text>
<text class="t" x="150" y="456.1" textLength="40" lengthAdjust="spacingAndGlyphs">Establish Should Cost Targets</text>
<text class="t" x="245" y="435.1" textLength="45" lengthAdjust="spacingAndGlyphs">Determine Affordability Caps</text>
<text class="t" x="245" y="443.1" textLength="80" lengthAdjust="spacingAndGlyphs">Conduct Cost/Performance Trades/Financial Impact</text>
<text class="t" x="262" y="451.1" textLength="27" lengthAdjust="spacingAndGlyphs">Update Cost Estimates</text>
<text class="t" x="248" y="457.6" textLength="26" lengthAdjust="spacingAndGlyphs">Work Program Funding</text>
<text class="t" x="360" y="440.1" textLength="57" lengthAdjust="spacingAndGlyphs">Analyze Industrial Financial Capabilities</text>
<text class="t" x="370" y="449.1" textLength="24" lengthAdjust="spacingAndGlyphs">Update Cost Estimates</text>
<text class="t" x="368" y="457.6" textLength="34" lengthAdjust="spacingAndGlyphs">Update Should Cost Targets</text>
<text class="t" x="450" y="457.1" textLength="40" lengthAdjust="spacingAndGlyphs">Work Program Funding</text>
<text class="t" x="509" y="457.1" textLength="40" lengthAdjust="spacingAndGlyphs">Update Should Cost Targets</text>
<text class="t" x="490" y="448.1" textLength="32" lengthAdjust="spacingAndGlyphs">Update Cost Estimates</text>
<text class="t" x="547" y="442.1" textLength="42" lengthAdjust="spacingAndGlyphs">Fund Product Improvements</text>
</g>

<!-- acronyms -->
<g id="acronyms">
<text x="633" y="107" textLength="39" lengthAdjust="spacingAndGlyphs" style="font-size:8px;fill:#333;text-anchor:middle">Acronyms &amp;</text>
<text x="610" y="115.5" textLength="44" lengthAdjust="spacingAndGlyphs" style="font-size:7.6px;fill:#333">Abbreviations</text>
<rect x="603.5" y="118" width="51.5" height="135" fill="#fff" stroke="#555" stroke-width="0.6"/>
<text class="ac" x="605" y="122">ACAT – Acquisition Category<tspan x="605" dy="3.85">APB – Acquisition Program Baseline</tspan><tspan x="605" dy="3.85">AoA – Analysis of Alternatives</tspan><tspan x="605" dy="3.85">ATO – Authority to Operate</tspan><tspan x="605" dy="3.85">CDD – Capability Development Document</tspan><tspan x="605" dy="3.85">CDD-V – Capability Development</tspan><tspan x="605" dy="3.85">   Document Validation</tspan><tspan x="605" dy="3.85">CPD – Capability Production Document</tspan><tspan x="605" dy="3.85">DT – Developmental Testing</tspan><tspan x="605" dy="3.85">DT&amp;E – Developmental Test &amp; Evaluation</tspan><tspan x="605" dy="3.85">EMD – Engineering &amp; Manufacturing</tspan><tspan x="605" dy="3.85">   Development</tspan><tspan x="605" dy="3.85">FOC – Full Operational Capability</tspan><tspan x="605" dy="3.85">FRP – Full Rate Production</tspan><tspan x="605" dy="3.85">ICD – Initial Capabilities Document</tspan><tspan x="605" dy="3.85">IOC – Initial Operational Capability</tspan><tspan x="605" dy="3.85">JCIDS – Joint Capabilities</tspan><tspan x="605" dy="3.85">   Integration &amp; Development System</tspan><tspan x="605" dy="3.85">LRIP – Low Rate Initial Production</tspan><tspan x="605" dy="3.85">MDA – Milestone Decision Authority</tspan><tspan x="605" dy="3.85">MDD – Materiel Development Decision</tspan><tspan x="605" dy="3.85">MSA – Materiel Solution Analysis</tspan><tspan x="605" dy="3.85">O&amp;S – Operations and Support</tspan><tspan x="605" dy="3.85">OT&amp;E – Operational Test &amp; Evaluation</tspan><tspan x="605" dy="3.85">P&amp;D – Production and Deployment</tspan><tspan x="605" dy="3.85">PM – Program Manager</tspan><tspan x="605" dy="3.85">RFP – Request for Proposal</tspan><tspan x="605" dy="3.85">SW – Software</tspan><tspan x="605" dy="3.85">T&amp;E – Test and Evaluation</tspan><tspan x="605" dy="3.85">TMRR – Technology Maturation &amp; Risk</tspan><tspan x="605" dy="3.85">   Reduction</tspan><tspan x="605" dy="3.85">USD(AT&amp;L) – Under Secretary of Defense</tspan><tspan x="605" dy="3.85">   for Acquisition, Technology &amp;</tspan><tspan x="605" dy="3.85">   Logistics</tspan></text>
</g>

<!-- red dashed ellipses -->
<g id="highlights">
<ellipse class="red" cx="338" cy="136" rx="98" ry="35" transform="rotate(-4 338 136)"/>
<ellipse class="red" cx="292" cy="223" rx="100" ry="37"/>
<ellipse class="red" cx="490" cy="215" rx="95" ry="33" transform="rotate(-12 490 215)"/>
<ellipse class="red" cx="390" cy="303" rx="94" ry="35" transform="rotate(-3 390 303)"/>
<ellipse class="red" cx="265" cy="381" rx="96" ry="35"/>
</g>
</svg>
